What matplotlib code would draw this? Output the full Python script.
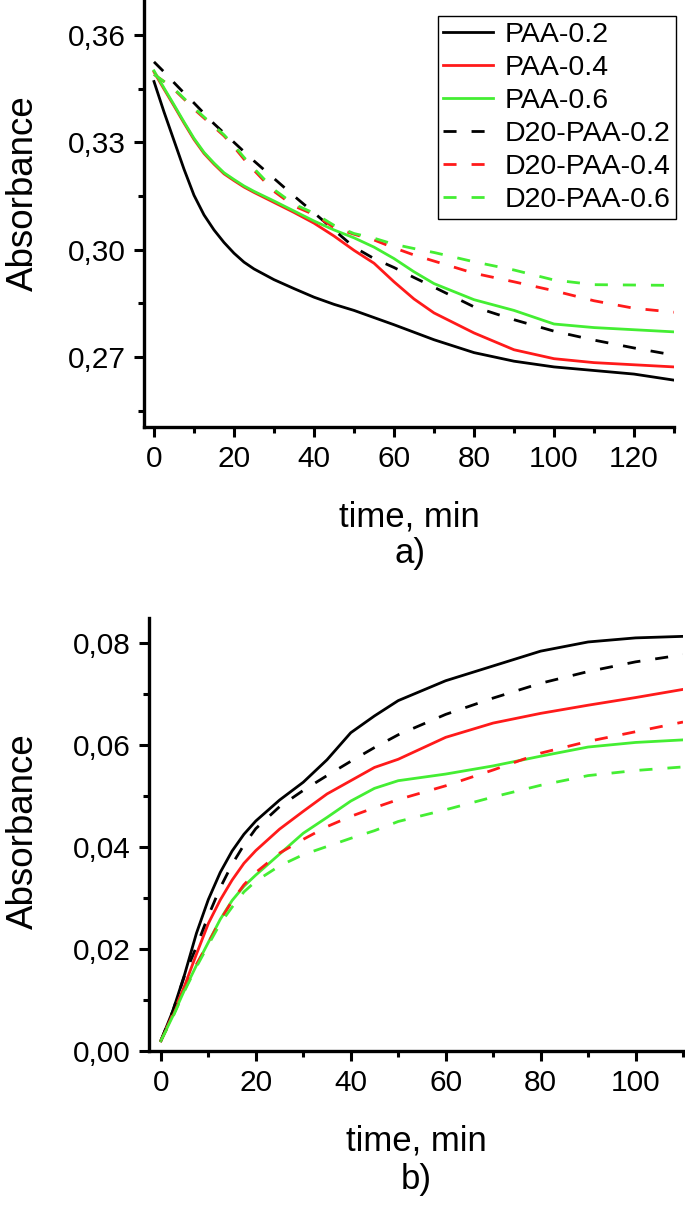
import numpy as np
import matplotlib
matplotlib.use('Agg')
from matplotlib import pyplot as plt
from matplotlib.ticker import FixedLocator, MultipleLocator

plt.rcParams['font.family'] = ['Liberation Sans', 'DejaVu Sans']

# Panel a) data
time_a = [0, 2.5, 5, 7.5, 10, 12.5, 15, 17.5, 20, 22.5, 25, 30, 35, 40, 45, 50, 55, 60, 65,
          70, 80, 90, 100, 110, 120, 130]
paa02_a = [0.3470, 0.3385, 0.3305, 0.3225, 0.3152, 0.3097, 0.3055, 0.3020, 0.2990, 0.2965,
           0.2946, 0.2916, 0.2891, 0.2867, 0.2847, 0.2830, 0.2810, 0.2790, 0.2769,
           0.2748, 0.2712, 0.2688, 0.2672, 0.2662, 0.2652, 0.2635]
paa04_a = [0.3497, 0.3449, 0.3402, 0.3354, 0.3308, 0.3269, 0.3239, 0.3212, 0.3193, 0.3175,
           0.3160, 0.3132, 0.3104, 0.3074, 0.3038, 0.2998, 0.2962, 0.2910, 0.2862,
           0.2823, 0.2767, 0.2720, 0.2695, 0.2684, 0.2678, 0.2672]
paa06_a = [0.3500, 0.3452, 0.3405, 0.3357, 0.3311, 0.3272, 0.3242, 0.3215, 0.3196, 0.3178,
           0.3163, 0.3136, 0.3108, 0.3080, 0.3055, 0.3033, 0.3007, 0.2975, 0.2938,
           0.2905, 0.2860, 0.2830, 0.2792, 0.2782, 0.2776, 0.2770]
d20_02_a = [0.3525, 0.3497, 0.3467, 0.3438, 0.3410, 0.3381, 0.3352, 0.3326, 0.3300, 0.3274,
            0.3248, 0.3199, 0.3150, 0.3103, 0.3055, 0.3007, 0.2975, 0.2950, 0.2922,
            0.2895, 0.2840, 0.2804, 0.2772, 0.2747, 0.2725, 0.2705]
d20_04_a = [0.3490, 0.3470, 0.3448, 0.3421, 0.3393, 0.3368, 0.3343, 0.3318, 0.3287, 0.3253,
            0.3222, 0.3163, 0.3122, 0.3098, 0.3062, 0.3043, 0.3027, 0.3005, 0.2985,
            0.2968, 0.2934, 0.2910, 0.2885, 0.2857, 0.2836, 0.2825]
d20_06_a = [0.3490, 0.3470, 0.3450, 0.3423, 0.3396, 0.3371, 0.3346, 0.3321, 0.3291, 0.3258,
            0.3227, 0.3168, 0.3127, 0.3102, 0.3068, 0.3045, 0.3032, 0.3015, 0.3003,
            0.2992, 0.2966, 0.2943, 0.2915, 0.2902, 0.2901, 0.2900]

# Panel b) data
time_b = [0, 2.5, 5, 7.5, 10, 12.5, 15, 17.5, 20, 25, 30, 35, 40, 45, 50, 60, 70, 80, 90,
          100, 110]
paa02_b = [0.0020, 0.0078, 0.0150, 0.0231, 0.0297, 0.0350, 0.0392, 0.0425, 0.0451, 0.0492,
           0.0527, 0.0571, 0.0624, 0.0657, 0.0687, 0.0726, 0.0755, 0.0784, 0.0802,
           0.0810, 0.0813]
paa04_b = [0.0020, 0.0072, 0.0128, 0.0190, 0.0250, 0.0296, 0.0335, 0.0368, 0.0393, 0.0435,
           0.0470, 0.0504, 0.0530, 0.0556, 0.0572, 0.0615, 0.0643, 0.0662, 0.0678,
           0.0693, 0.0709]
paa06_b = [0.0020, 0.0068, 0.0120, 0.0168, 0.0213, 0.0258, 0.0295, 0.0323, 0.0345, 0.0386,
           0.0427, 0.0458, 0.0490, 0.0515, 0.0530, 0.0543, 0.0559, 0.0578, 0.0596,
           0.0605, 0.0610]
d20_02_b = [0.0020, 0.0078, 0.0148, 0.0205, 0.0265, 0.0320, 0.0366, 0.0404, 0.0436, 0.0479,
            0.0511, 0.0540, 0.0568, 0.0595, 0.0620, 0.0660, 0.0692, 0.0721, 0.0744,
            0.0763, 0.0777]
d20_04_b = [0.0020, 0.0068, 0.0122, 0.0170, 0.0212, 0.0256, 0.0294, 0.0326, 0.0350, 0.0388,
            0.0415, 0.0440, 0.0460, 0.0477, 0.0493, 0.0520, 0.0551, 0.0584, 0.0607,
            0.0626, 0.0645]
d20_06_b = [0.0020, 0.0066, 0.0118, 0.0165, 0.0208, 0.0250, 0.0282, 0.0312, 0.0333, 0.0363,
            0.0385, 0.0401, 0.0417, 0.0432, 0.0450, 0.0473, 0.0498, 0.0521, 0.0540,
            0.0550, 0.0557]

labels = ['PAA-0.2', 'PAA-0.4', 'PAA-0.6', 'D20-PAA-0.2', 'D20-PAA-0.4', 'D20-PAA-0.6']
yticks_a = [0.27, 0.30, 0.33, 0.36]
yticklabels_a = ['0,27', '0,30', '0,33', '0,36']
yticks_b = [0.00, 0.02, 0.04, 0.06, 0.08]
yticklabels_b = ['0,00', '0,02', '0,04', '0,06', '0,08']

black = 'black'
red = '#ff1a1a'
green = '#44ee33'
dash = (0, (4.7, 5.4))
lw = 2.0

fig = plt.figure(figsize=(6.85, 12.09), dpi=100)
ax1 = fig.add_axes([144/685, 1-427/1209, 530/685, 427/1209])
ax2 = fig.add_axes([149/685, 1-1051/1209, 534/685, 433/1209])


def style(ax):
    for s in ['top', 'right']:
        ax.spines[s].set_visible(False)
    for s in ['left', 'bottom']:
        ax.spines[s].set_linewidth(2.4)
    ax.tick_params(which='major', direction='out', length=7, width=2.2, labelsize=21.5, pad=6)
    ax.tick_params(which='minor', direction='out', length=4, width=2.2)
    ax.xaxis.set_major_locator(MultipleLocator(20))
    ax.xaxis.set_minor_locator(MultipleLocator(10))
    ax.set_xlabel('time, min', fontsize=25, labelpad=20)
    ax.set_ylabel('Absorbance', fontsize=26.5)


# Panel a)
ax1.plot(time_a, paa02_a, color=black, lw=lw, label=labels[0])
ax1.plot(time_a, paa04_a, color=red, lw=lw, label=labels[1])
ax1.plot(time_a, paa06_a, color=green, lw=lw, label=labels[2])
ax1.plot(time_a, d20_02_a, color=black, lw=lw, ls=dash, label=labels[3])
ax1.plot(time_a, d20_04_a, color=red, lw=lw, ls=dash, label=labels[4])
ax1.plot(time_a, d20_06_a, color=green, lw=lw, ls=dash, label=labels[5])
ax1.set_xlim(-2.5, 130)
ax1.set_ylim(0.2504, 0.3698)
style(ax1)
ax1.yaxis.set_label_coords(-0.194, 0.548)
ax1.yaxis.set_major_locator(FixedLocator(yticks_a))
ax1.set_yticklabels(yticklabels_a)
ax1.yaxis.set_minor_locator(MultipleLocator(0.015))
leg = ax1.legend(loc='upper right', bbox_to_anchor=(676/685, 1-16/1209),
                 bbox_transform=fig.transFigure, borderaxespad=0, fontsize=20.5,
                 fancybox=False, edgecolor='black', framealpha=1, handlelength=1.75,
                 handletextpad=0.4, labelspacing=0.25, borderpad=0.2)
leg.get_frame().set_linewidth(1.0)

# Panel b)
ax2.plot(time_b, paa02_b, color=black, lw=lw)
ax2.plot(time_b, paa04_b, color=red, lw=lw)
ax2.plot(time_b, paa06_b, color=green, lw=lw)
ax2.plot(time_b, d20_02_b, color=black, lw=lw, ls=dash)
ax2.plot(time_b, d20_04_b, color=red, lw=lw, ls=dash)
ax2.plot(time_b, d20_06_b, color=green, lw=lw, ls=dash)
ax2.set_xlim(-2.5, 110)
ax2.set_ylim(0, 0.0849)
style(ax2)
ax2.yaxis.set_label_coords(-0.202, 0.508)
ax2.yaxis.set_major_locator(FixedLocator(yticks_b))
ax2.set_yticklabels(yticklabels_b)
ax2.yaxis.set_minor_locator(MultipleLocator(0.01))

fig.text(410/685, 1-553/1209, 'a)', fontsize=25, ha='center', va='center')
fig.text(416/685, 1-1180/1209, 'b)', fontsize=25, ha='center', va='center')

fig.savefig('out.png', dpi=100)
